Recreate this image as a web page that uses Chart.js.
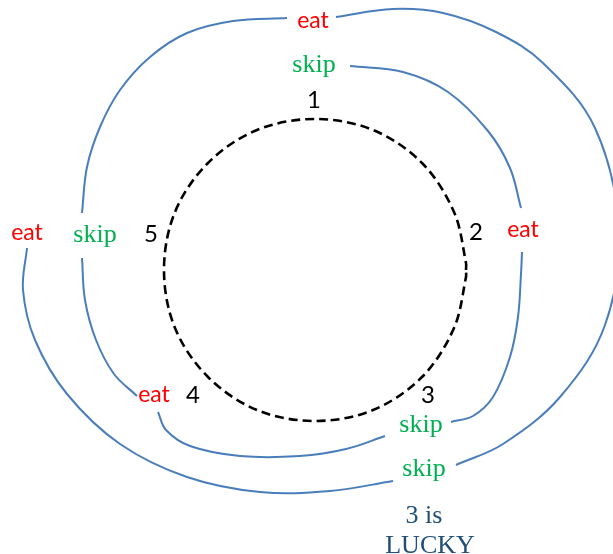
<!DOCTYPE html>
<html>
<head>
<meta charset="utf-8">
<script src="https://cdn.jsdelivr.net/npm/chart.js@4.4.1/dist/chart.umd.min.js"></script>
<style>
  html, body { margin: 0; padding: 0; background: #ffffff; }
  #wrap { width: 613px; height: 554px; }
</style>
</head>
<body>
<div id="wrap"><canvas id="diagram" width="613" height="554"></canvas></div>
<script>
// dashed ring of people 1..5 (starts/ends just right of "2")
const ringPts = [
  [466, 270], [466, 263], [454, 212], [422, 163], [373, 130], [315, 119], [257, 130], [208, 163], [175, 212],
  [164, 270], [175, 328], [208, 377], [257, 410], [315, 421], [373, 410], [422, 377], [454, 328], [466, 277], [466, 270]
];

// blue connector arcs, each one between two labels
const arcTopLeft = [[287, 18], [233, 21], [187, 33], [150, 57], [120, 90], [100, 127], [87, 167], [82, 213]];
const arcLeftDown = [[82, 258], [85, 300], [96, 340], [114, 374], [137, 396]];
const arcBottomInner = [[158, 412], [166, 430], [190, 446], [240, 456], [300, 456], [346, 449], [385, 436]];
const arcRightUp = [[451, 422], [473, 416], [493, 397], [510, 357], [518, 317], [521, 274], [522, 252]];
const arcRightTop = [[521, 208], [510, 168], [488, 131], [448, 92], [403, 72], [350, 66]];
const arcOuterRight = [[336, 17], [393, 9], [443, 13], [496, 32], [543, 63], [595, 128], [619, 230], [605, 325], [560, 397], [503, 444], [456, 465]];
const arcOuterLeft = [[393, 481], [330, 491], [260, 492], [187, 477], [120, 444], [67, 394], [35, 340], [23, 290], [27, 248]];

// text labels
const labelText = ["eat", "skip", "1", "eat", "skip", "5", "2", "eat", "eat", "4", "3", "skip", "skip", "3 is", "LUCKY"];
const labelKind = ["eat", "skip", "num", "eat", "skip", "num", "num", "eat", "eat", "num", "num", "skip", "skip", "note", "note"];
const labelX = [313, 314, 314, 27, 95, 151, 476, 523, 154, 193, 428, 421, 424, 424, 430];
const labelY = [28, 72, 108, 240, 242, 242, 240, 237, 402, 403, 403, 432, 476, 523, 553];

const blue = "#4a7ebb";
const red = "#ff0000";
const green = "#00b050";
const navy = "#1f4e79";

const toXY = (pts) => pts.map(([x, y]) => ({ x, y }));

const arcSet = (pts) => ({
  data: toXY(pts),
  borderColor: blue,
  borderWidth: 2,
  tension: 0.36,
  capBezierPoints: false,
  pointRadius: 0,
  fill: false,
});

const kindStyle = {
  eat: { color: red, font: "23px Lato, sans-serif" },
  skip: { color: green, font: "26px 'Liberation Serif', serif" },
  num: { color: "#000000", font: "24px Lato, sans-serif" },
  note: { color: navy, font: "26px 'Liberation Serif', serif" },
};

const labelPlugin = {
  id: "labels",
  afterDatasetsDraw(chart) {
    const { ctx, scales } = chart;
    ctx.save();
    ctx.textAlign = "center";
    ctx.textBaseline = "alphabetic";
    labelText.forEach((t, i) => {
      const st = kindStyle[labelKind[i]];
      ctx.fillStyle = st.color;
      ctx.font = st.font;
      ctx.fillText(t, scales.x.getPixelForValue(labelX[i]), scales.y.getPixelForValue(labelY[i]));
    });
    ctx.restore();
  },
};

new Chart(document.getElementById("diagram"), {
  type: "line",
  data: {
    datasets: [
      {
        data: toXY(ringPts),
        borderColor: "#000000",
        borderWidth: 2.6,
        borderDash: [9, 5],
        tension: 0.34,
        pointRadius: 0,
        fill: false,
      },
      arcSet(arcTopLeft),
      arcSet(arcLeftDown),
      arcSet(arcBottomInner),
      arcSet(arcRightUp),
      arcSet(arcRightTop),
      arcSet(arcOuterRight),
      arcSet(arcOuterLeft),
    ],
  },
  options: {
    responsive: false,
    animation: false,
    layout: { padding: 0 },
    plugins: { legend: { display: false }, tooltip: { enabled: false } },
    scales: {
      x: { type: "linear", min: 0, max: 613, display: false },
      y: { type: "linear", min: 0, max: 554, reverse: true, display: false },
    },
  },
  plugins: [labelPlugin],
});
</script>
</body>
</html>
